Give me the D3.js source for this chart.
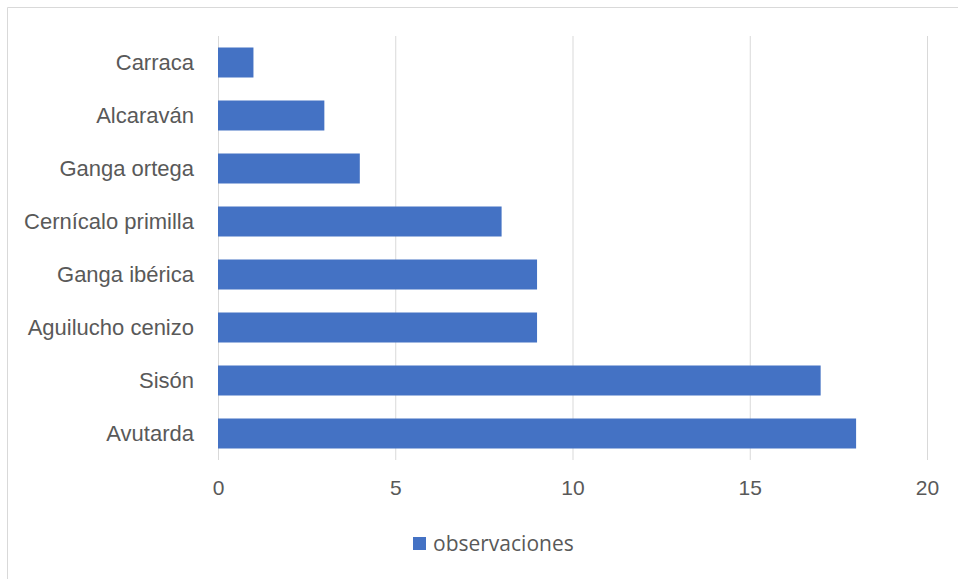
<!DOCTYPE html>
<html>
<head>
<meta charset="utf-8">
<script src="https://cdn.jsdelivr.net/npm/d3@7"></script>
<style>
  body { margin: 0; background: #fff; }
  svg { font-family: 'Open Sans', 'Noto Sans', sans-serif; }
  .tick text { fill: #595959; font-size: 21px; }
  .grid line { stroke: #d9d9d9; }
</style>
</head>
<body>
<svg id="chart" width="958" height="579"></svg>
<script>
const categories = ['Carraca', 'Alcaraván', 'Ganga ortega', 'Cernícalo primilla',
  'Ganga ibérica', 'Aguilucho cenizo', 'Sisón', 'Avutarda'];
const observaciones = [1, 3, 4, 8, 9, 9, 17, 18];
const xTicks = [0, 5, 10, 15, 20];
const seriesName = 'observaciones';

const data = categories.map((c, i) => ({ name: c, value: observaciones[i] }));

const svg = d3.select('#chart');

// chart border (only top and left edges show)
svg.append('path')
  .attr('d', 'M7.5,579V7.5H958')
  .attr('fill', 'none').attr('stroke', '#d9d9d9');

const plotLeft = 218, plotRight = 927, plotTop = 36, plotBottom = 460;

const x = d3.scaleLinear().domain([0, 20]).range([plotLeft, plotRight]);
const y = d3.scaleBand().domain(categories).range([plotTop, plotBottom])
  .paddingInner(0.434).paddingOuter(0.217);

// gridlines
svg.append('g')
  .attr('class', 'grid')
  .attr('transform', `translate(0, ${plotBottom})`)
  .call(d3.axisBottom(x).tickValues(xTicks).tickSize(-(plotBottom - plotTop)).tickFormat(''))
  .call(g => g.select('.domain').remove());

// bars
svg.append('g').selectAll('rect')
  .data(data)
  .enter().append('rect')
  .attr('x', x(0))
  .attr('y', d => y(d.name))
  .attr('width', d => x(d.value) - x(0))
  .attr('height', y.bandwidth())
  .attr('fill', '#4472c4');

// x axis labels
svg.append('g')
  .attr('transform', `translate(0, ${plotBottom})`)
  .call(d3.axisBottom(x).tickValues(xTicks).tickSize(0).tickPadding(20))
  .call(g => g.select('.domain').remove());

// y axis labels
svg.append('g')
  .attr('transform', `translate(${plotLeft}, 0)`)
  .call(d3.axisLeft(y).tickSize(0).tickPadding(24))
  .call(g => g.select('.domain').remove())
  .selectAll('text').style('font-size', '22px');

// legend
const legend = svg.append('g').attr('transform', 'translate(413, 537)');
legend.append('rect').attr('width', 13).attr('height', 13).attr('fill', '#4472c4');
legend.append('text')
  .attr('x', 20).attr('y', 14)
  .attr('fill', '#595959')
  .style('font-size', '21px')
  .text(seriesName);
</script>
</body>
</html>
